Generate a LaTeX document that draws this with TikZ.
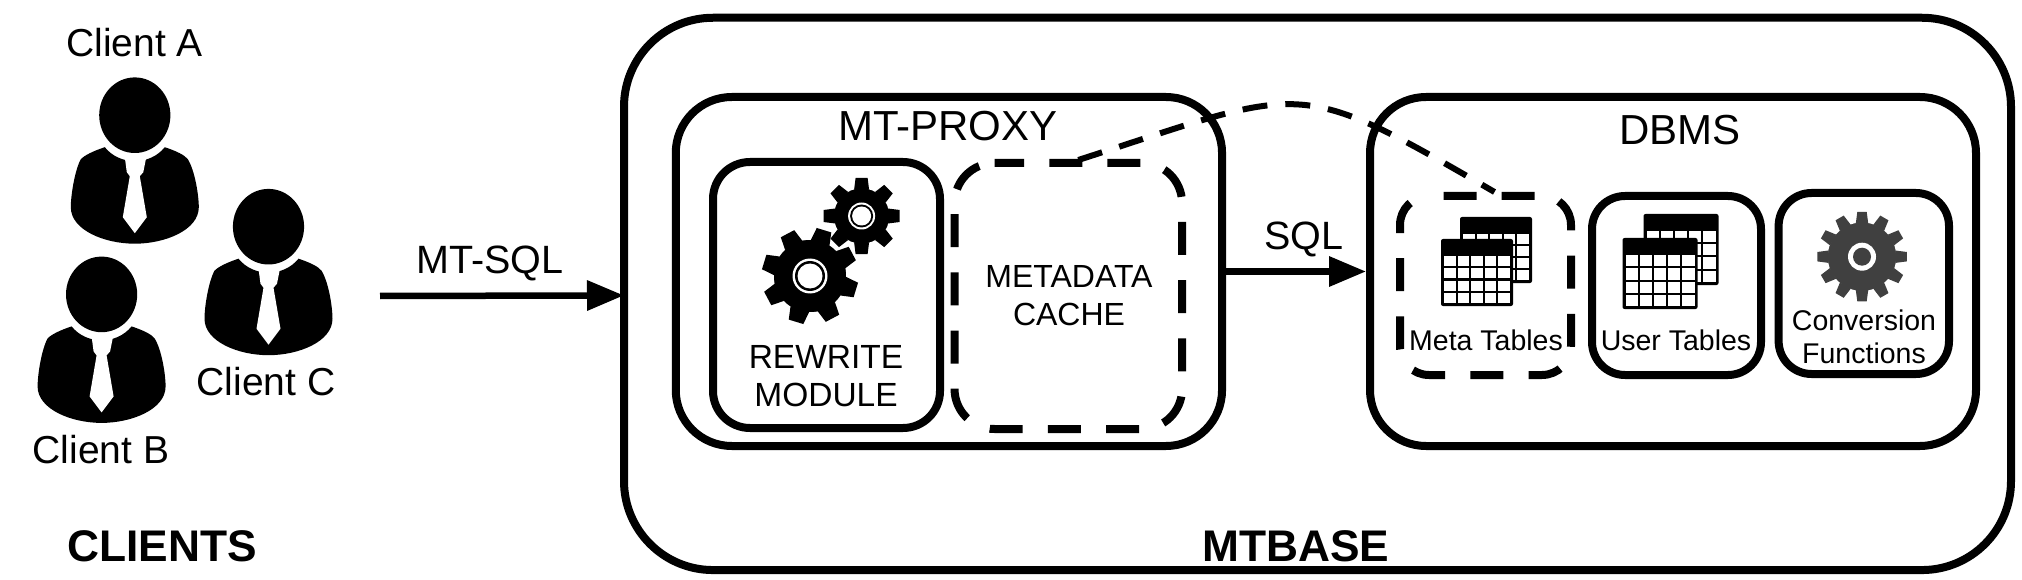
\documentclass[tikz,border=0pt]{standalone}
\usepackage{fontspec}
\setmainfont{Liberation Sans}
\usetikzlibrary{shapes, arrows.meta, positioning, calc}
\tikzstyle{mainbox} = [rectangle, draw=black, line width=8pt, rounded corners=89pt, inner sep=0pt]
\tikzstyle{partbox} = [rectangle, draw=black, line width=8pt, rounded corners=56pt, inner sep=0pt]
\tikzstyle{smallbox} = [rectangle, draw=black, line width=8pt, rounded corners=37pt, inner sep=0pt]
\tikzstyle{dashframe} = [draw=black, line width=8pt, dash pattern=on 33pt off 25.2pt]
\tikzstyle{holder} = [rectangle, inner sep=0pt, outer sep=0pt]
\tikzstyle{biglabel} = [inner sep=0pt, align=center, font=\fontsize{42}{48}\selectfont]
\tikzstyle{clientlabel} = [inner sep=0pt, font=\fontsize{39}{45}\selectfont]
\tikzstyle{linelabel} = [inner sep=0pt, font=\fontsize{39.5}{45}\selectfont]
\tikzstyle{midlabel} = [inner sep=0pt, align=center, font=\fontsize{33.5}{38}\selectfont]
\tikzstyle{tinylabel} = [inner sep=0pt, align=center, font=\fontsize{28.5}{33}\selectfont]
\tikzstyle{boldlabel} = [inner sep=0pt, font=\fontsize{44.3}{50}\selectfont\bfseries]
\tikzstyle{pipe} = [line width=6.5pt, -{Triangle[length=37pt, width=29pt]}]
% one client: head centre at #1,#2
\newcommand{\clientfig}[2]{
  \begin{scope}[shift={(#1,#2)}]
    \fill (0,0) ellipse (35.6 and 37.8);
    \fill (-30,32) .. controls (-42,36) and (-50,40) .. (-54,44)
      .. controls (-60,55) and (-64,80) .. (-64,92)
      .. controls (-64,115) and (-30,128.5) .. (0,128.5)
      .. controls (30,128.5) and (64,115) .. (64,92)
      .. controls (64,80) and (60,55) .. (53,44)
      .. controls (50,40) and (42,36) .. (30,32)
      .. controls (15,50.6) and (-15,50.6) .. cycle;
    \fill[white] (-10,42) -- (-8,57) -- (-5,61) -- (-12,102) -- (0,118)
      -- (12,102) -- (5,61) -- (8.5,57) -- (11.5,42) -- cycle;
  \end{scope}
}
% gear: centre, outer radius, body radius, teeth, turn, colour
\newcommand{\gearicon}[7]{
  \begin{scope}[shift={(#1,#2)}]
    \fill[#7, draw=white, line width=1.5pt] (0,0) circle (#4);
    \pgfmathsetmacro{\gearstep}{360/#5}
    \foreach \i in {1,...,#5} {
      \pgfmathsetmacro{\gearang}{#6+\i*\gearstep}
      \fill[#7] (\gearang-0.35*\gearstep:#4-1) -- (\gearang-0.2*\gearstep:#3)
        -- (\gearang+0.2*\gearstep:#3) -- (\gearang+0.35*\gearstep:#4-1) -- cycle;
    }
  \end{scope}
}
% table: left, top, width, height
\newcommand{\tableicon}[4]{
  \begin{scope}[shift={(#1,#2)}]
    \fill[black, rounded corners=2pt] (0,0) rectangle (#3,#4);
    \pgfmathsetmacro{\cellw}{(#3-6-8)/5}
    \pgfmathsetmacro{\cellh}{(#4-17-3-6)/4}
    \foreach \c in {0,...,4} {
      \foreach \r in {0,...,3} {
        \fill[white] ({3+\c*(\cellw+2)},{17+\r*(\cellh+2)}) rectangle +(\cellw,\cellh);
      }
    }
  \end{scope}
}

\begin{document}
\begin{tikzpicture}[x=1pt, y=-1pt]
\useasboundingbox (0,0) rectangle (2022,580);
\fill[white] (0,0) rectangle (2022,580);

% clients
\clientfig{134.8}{115.2}
\clientfig{101.6}{294.4}
\clientfig{268.5}{226.7}
\node (clienta) [clientlabel] at (134.5,43) {Client A};
\node (clientb) [clientlabel] at (101,450) {Client B};
\node (clientc) [clientlabel] at (266,382) {Client C};
\node (clients) [boldlabel] at (162,546) {CLIENTS};

% boxes
\node (mtbase) [mainbox, minimum width=1387pt, minimum height=552.3pt] at (1317.5,293.9) {};
\node (proxy) [partbox, minimum width=546.3pt, minimum height=349pt] at (948.9,271.5) {};
\node (dbms) [partbox, minimum width=606pt, minimum height=349pt] at (1673,271.5) {};
\node (rewrite) [smallbox, minimum width=227pt, minimum height=266pt] at (826.5,295) {};
\node (cache) [holder, minimum width=227.5pt, minimum height=266pt] at (1068.3,296) {};
\node (metatab) [holder, minimum width=171pt, minimum height=179pt] at (1485.5,285.5) {};
\node (usertab) [smallbox, minimum width=169pt, minimum height=179pt, rounded corners=33pt] at (1676.5,285.5) {};
\node (convbox) [smallbox, minimum width=170.4pt, minimum height=181pt, rounded corners=33pt] at (1863.8,283.5) {};

% dashed frames, started on the top side
\draw [dashframe, dash phase=3.5pt, rounded corners=40pt] ([xshift=40pt]cache.north west) -- (cache.north east)
  -- (cache.south east) -- (cache.south west) -- (cache.north west) -- ([xshift=40pt]cache.north west);
\draw [dashframe, rounded corners=29pt] ([xshift=43.5pt]metatab.north west) -- (metatab.north east)
  -- (metatab.south east) -- (metatab.south west) -- (metatab.north west) -- ([xshift=29pt]metatab.north west);

% box titles
\node (mtbasetxt) [boldlabel] at (1296,546) {MTBASE};
\node (proxytxt) [biglabel] at (948,126) {MT-PROXY};
\node (dbmstxt) [biglabel] at (1680,130) {DBMS};
\node (rewritetxt) [midlabel] at (826,376) {REWRITE\\MODULE};
\node (cachetxt) [midlabel, font=\fontsize{32}{38}\selectfont] at (1069,296) {METADATA\\CACHE};
\node (metatxt) [tinylabel] at (1486,340) {Meta Tables};
\node (usertxt) [tinylabel] at (1676,340) {User Tables};
\node (convtxt) [tinylabel] at (1864,337) {Conversion\\Functions};

% gears
\gearicon{861.6}{216}{38.5}{28.5}{8}{0}{black}
\fill[white] (861.6,216) circle (13.5);
\fill[black] (861.6,216) circle (11.5);
\fill[white] (861.6,216) circle (9.5);
\gearicon{810}{276}{48.5}{37}{8}{17}{black}
\fill[white] (810,276) circle (17.5);
\fill[black] (810,276) circle (15);
\fill[white] (810,276) circle (12.5);
\gearicon{1862}{256.7}{45}{35}{12}{0}{black!75}
\fill[white] (1862,256.7) circle (14);
\fill[black!75] (1862,256.7) circle (9);

% tables
\tableicon{1460}{217}{72}{66}
\tableicon{1441}{239}{72}{67}
\tableicon{1643.5}{214}{75}{71}
\tableicon{1622.5}{238}{75}{71}

% connectors
\coordinate (sqlstart) at (380,296);
\draw [pipe, shorten >=-4pt] (sqlstart) -- (mtbase);
\node (mtsqltxt) [linelabel] at (490,263) {MT-SQL};
\draw [pipe] (proxy) -- (dbms);
\node (sqltxt) [linelabel] at (1304,239) {SQL};
\draw [black, line width=6pt, dash pattern=on 25pt off 18pt]
  ([xshift=10pt, yshift=3pt]cache.north) .. controls (1308,86) and (1293,75) .. ([xshift=9pt, yshift=4pt]metatab.north);
\end{tikzpicture}
\end{document}
